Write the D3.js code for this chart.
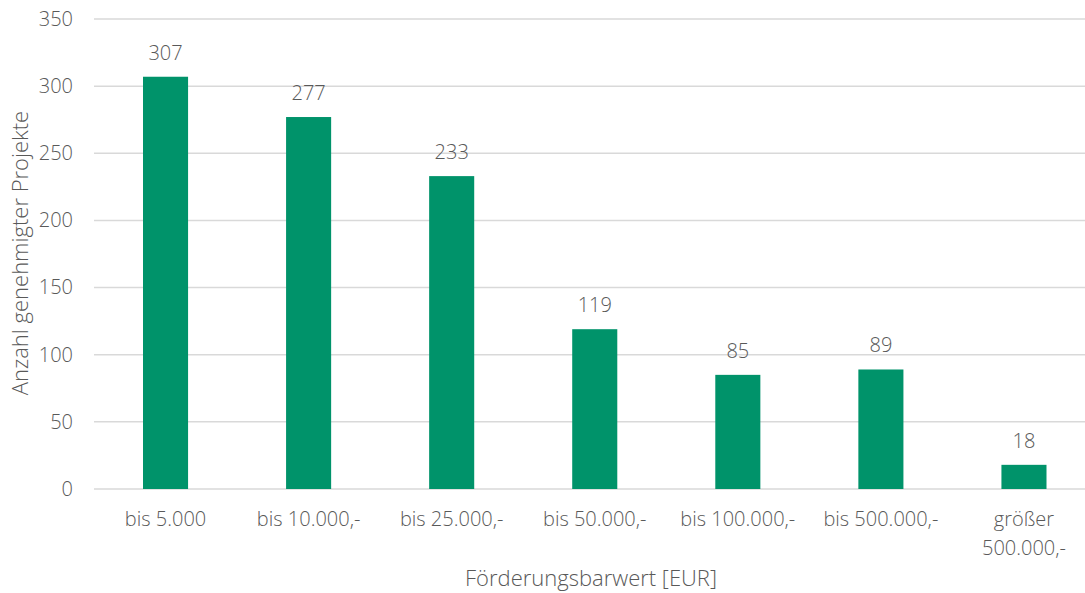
<!DOCTYPE html>
<html>
<head>
<meta charset="utf-8">
<script src="https://cdn.jsdelivr.net/npm/d3@7"></script>
<style>
  body { margin: 0; background: #fff; }
  text { font-family: "Open Sans", sans-serif; font-weight: 300; fill: #595959; }
</style>
</head>
<body>
<div id="chart"></div>
<script>
const categories = ["bis 5.000", "bis 10.000,-", "bis 25.000,-", "bis 50.000,-", "bis 100.000,-", "bis 500.000,-", "größer 500.000,-"];
const values = [307, 277, 233, 119, 85, 89, 18];
const yTicks = [0, 50, 100, 150, 200, 250, 300, 350];

const width = 1085, height = 593;
const plot = {left: 94, right: 1095.5, top: 19, bottom: 489};

let svg = d3.select("#chart")
    .append("svg")
    .attr("width", width)
    .attr("height", height);

let x = d3.scaleBand()
    .domain(categories)
    .range([plot.left, plot.right])
    .paddingInner(0.685)
    .paddingOuter(0.3425);

let y = d3.scaleLinear()
    .domain([0, 350])
    .range([plot.bottom, plot.top]);

// gridlines
svg.append("g")
    .selectAll("line")
    .data(yTicks)
    .enter()
    .append("line")
    .attr("x1", plot.left)
    .attr("x2", width)
    .attr("y1", d => y(d))
    .attr("y2", d => y(d))
    .attr("stroke", "#d9d9d9")
    .attr("stroke-width", 1.5);

// y axis labels
let yAxis = svg.append("g")
    .attr("transform", `translate(${plot.left}, 0)`)
    .call(d3.axisLeft(y).tickValues(yTicks).tickSize(0).tickPadding(21));
yAxis.select(".domain").remove();
yAxis.selectAll("text")
    .style("font-size", "20px")
    .style("font-family", null);

// bars
svg.append("g")
    .selectAll("rect")
    .data(values)
    .enter()
    .append("rect")
    .attr("x", (d, i) => x(categories[i]))
    .attr("y", d => y(d))
    .attr("width", x.bandwidth())
    .attr("height", d => y(0) - y(d))
    .attr("fill", "#00936a");

// value labels
svg.append("g")
    .selectAll("text")
    .data(values)
    .enter()
    .append("text")
    .attr("x", (d, i) => x(categories[i]) + x.bandwidth() / 2)
    .attr("y", d => y(d) - 17)
    .style("text-anchor", "middle")
    .style("font-size", "20px")
    .text(d => d);

// x axis labels (wrapped)
let xAxis = svg.append("g")
    .attr("transform", `translate(0, ${plot.bottom})`)
    .call(d3.axisBottom(x).tickSize(0).tickPadding(0));
xAxis.select(".domain").remove();
xAxis.selectAll("text").remove();
xAxis.selectAll(".tick")
    .append("text")
    .style("text-anchor", "middle")
    .style("font-size", "20px")
    .each(function(d) {
        let lines = d.startsWith("größer") ? ["größer", "500.000,-"] : [d];
        let t = d3.select(this);
        lines.forEach((l, i) => {
            t.append("tspan")
                .attr("x", 0)
                .attr("y", 37 + i * 29)
                .text(l);
        });
    });

// axis titles
svg.append("text")
    .attr("x", 591)
    .attr("y", 586)
    .style("text-anchor", "middle")
    .style("font-size", "22px")
    .text("Förderungsbarwert [EUR]");

svg.append("text")
    .attr("transform", `translate(28, 253) rotate(-90)`)
    .style("text-anchor", "middle")
    .style("font-size", "22px")
    .text("Anzahl genehmigter Projekte");
</script>
</body>
</html>
